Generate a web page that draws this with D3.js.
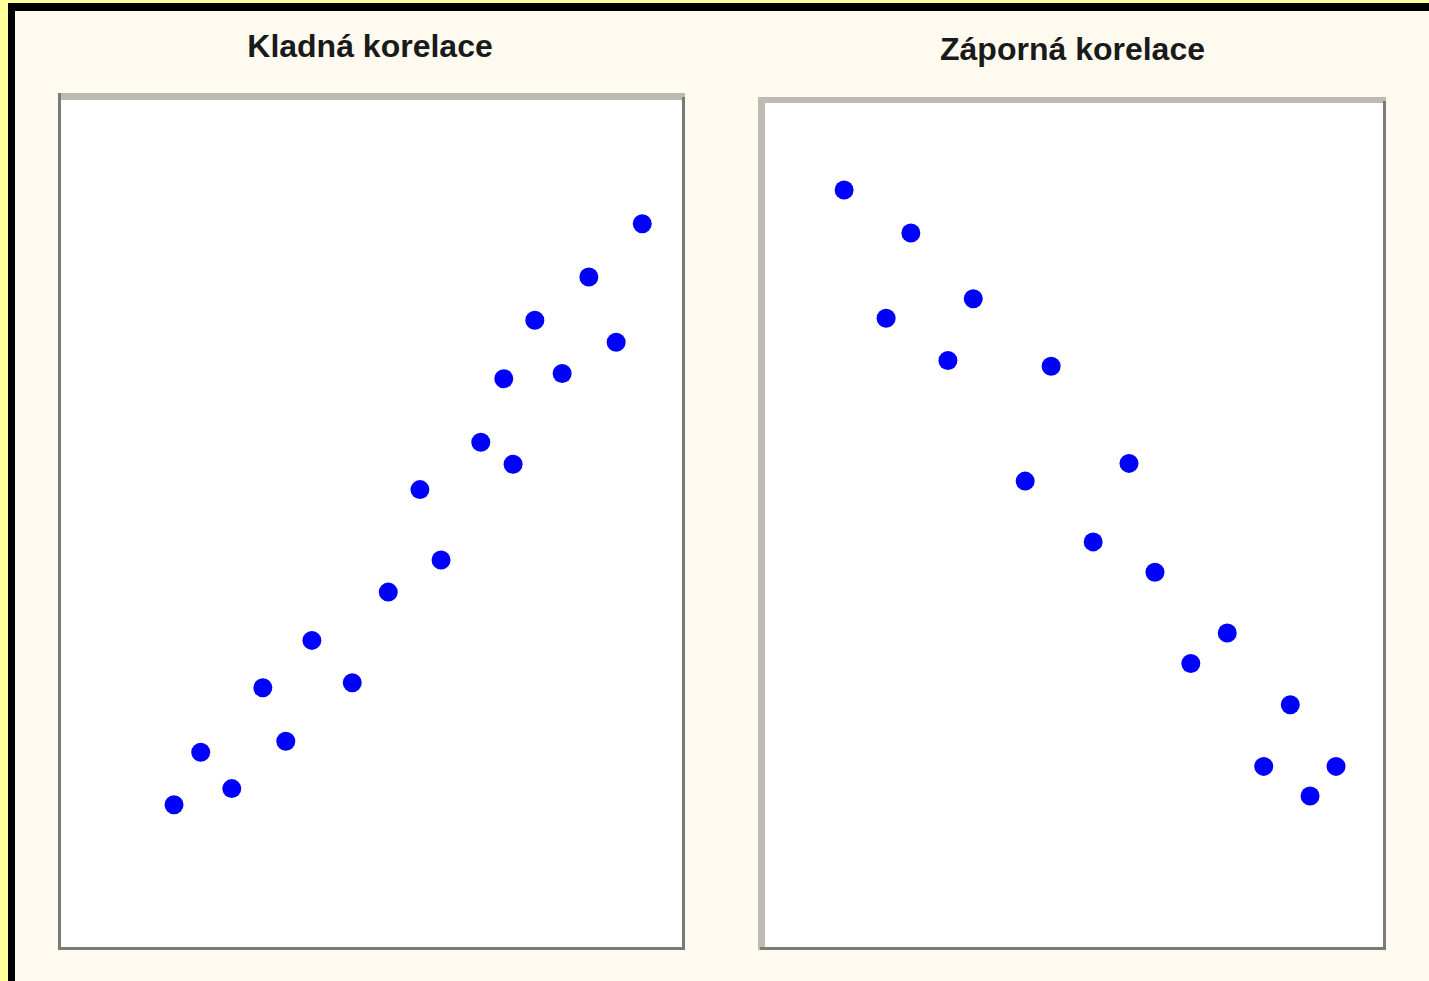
<!DOCTYPE html>
<html>
<head>
<meta charset="utf-8">
<script src="https://cdn.jsdelivr.net/npm/d3@7"></script>
<style>
  html, body { margin: 0; padding: 0; background: #ffff99; }
  svg { display: block; }
</style>
</head>
<body>
<script>
// Panel titles
const titles = ["Kladná korelace", "Záporná korelace"];

// Positive correlation sample (x, y on a 0–100 scale)
const posX = [18.2, 22.5, 27.5, 32.5, 36.2, 40.4, 46.9, 52.7, 57.8, 61.2, 67.6, 71.3, 72.8, 76.3, 80.7, 85.0, 89.4, 93.6];
const posY = [16.8, 23.0, 18.7, 30.6, 24.3, 36.2, 31.2, 41.9, 54.0, 45.7, 59.6, 67.1, 57.0, 74.0, 67.7, 79.1, 71.4, 85.4];

// Negative correlation sample (x, y on a 0–100 scale)
const negX = [12.8, 23.6, 19.6, 33.7, 29.6, 46.3, 42.1, 58.9, 53.1, 63.1, 74.8, 68.9, 85.0, 80.7, 88.2, 92.4];
const negY = [89.7, 84.6, 74.5, 76.8, 69.5, 68.8, 55.2, 57.3, 48.0, 44.4, 37.2, 33.6, 28.7, 21.4, 17.9, 21.4];

const W = 1429, H = 981;
const svg = d3.select("body").append("svg").attr("width", W).attr("height", H);

// Page frame: yellow margin, black rule, cream sheet
svg.append("rect").attr("width", W).attr("height", H).attr("fill", "#ffff99");
svg.append("rect").attr("x", 8).attr("y", 3).attr("width", W - 8).attr("height", H - 3).attr("fill", "#000");
svg.append("rect").attr("x", 15).attr("y", 11).attr("width", W - 15).attr("height", H - 11).attr("fill", "#fffaef");

const LIGHT = "#bdbab2", DARK = "#7a7a78";

const panels = [
  { title: titles[0], tx: 370, ty: 57, xs: posX, ys: posY,
    box: { x0: 58, y0: 93, x1: 685, y1: 950 },
    inner: { x0: 61, y0: 100, x1: 682, y1: 947 },
    leftLight: false },
  { title: titles[1], tx: 1072.5, ty: 60, xs: negX, ys: negY,
    box: { x0: 758, y0: 97, x1: 1386, y1: 950 },
    inner: { x0: 765, y0: 103, x1: 1383, y1: 947 },
    leftLight: true }
];

panels.forEach(p => {
  const g = svg.append("g");
  const b = p.box, i = p.inner;

  // plot area
  g.append("rect").attr("x", b.x0).attr("y", b.y0)
    .attr("width", b.x1 - b.x0).attr("height", b.y1 - b.y0).attr("fill", "#fff");
  // top edge (light)
  g.append("rect").attr("x", b.x0).attr("y", b.y0)
    .attr("width", b.x1 - b.x0).attr("height", i.y0 - b.y0).attr("fill", LIGHT);
  // left edge
  g.append("rect").attr("x", b.x0).attr("y", b.y0)
    .attr("width", i.x0 - b.x0).attr("height", b.y1 - b.y0)
    .attr("fill", p.leftLight ? LIGHT : DARK);
  // right edge
  g.append("rect").attr("x", i.x1).attr("y", b.y0 + 4)
    .attr("width", b.x1 - i.x1).attr("height", b.y1 - b.y0 - 4).attr("fill", DARK);
  // bottom edge
  g.append("rect").attr("x", p.leftLight ? b.x0 + 2 : b.x0).attr("y", i.y1)
    .attr("width", b.x1 - (p.leftLight ? b.x0 + 2 : b.x0)).attr("height", b.y1 - i.y1).attr("fill", DARK);

  // title
  svg.append("text")
    .attr("x", p.tx).attr("y", p.ty)
    .attr("text-anchor", "middle")
    .attr("font-family", "'Liberation Sans', Arial, sans-serif")
    .attr("font-weight", "bold")
    .attr("font-size", 32)
    .attr("fill", "#1a1a1a")
    .text(p.title);

  const x = d3.scaleLinear().domain([0, 100]).range([i.x0, i.x1]);
  const y = d3.scaleLinear().domain([0, 100]).range([i.y1, i.y0]);

  g.selectAll("circle.pt")
    .data(p.xs.map((v, k) => [v, p.ys[k]]))
    .join("circle")
    .attr("class", "pt")
    .attr("cx", d => x(d[0]))
    .attr("cy", d => y(d[1]))
    .attr("r", 9.5)
    .attr("fill", "#0000ff");
});
</script>
</body>
</html>
